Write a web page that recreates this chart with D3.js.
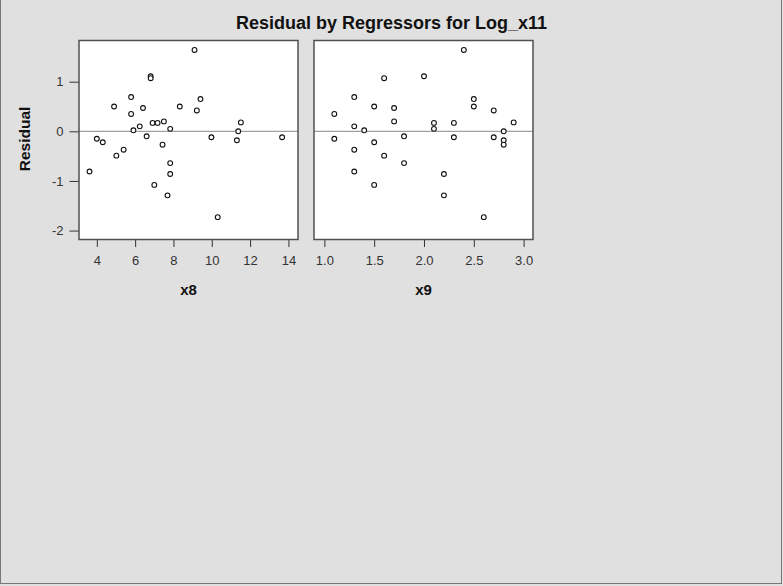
<!DOCTYPE html>
<html>
<head>
<meta charset="utf-8">
<script src="https://cdn.jsdelivr.net/npm/d3@7"></script>
<style>
  html, body { margin: 0; padding: 0; background: #e0e0e0; }
  svg { display: block; }
</style>
</head>
<body>
<svg></svg>
<script>
// residuals and the two regressors, one entry per observation
let residual = [1.64, 1.11, 1.07, 0.69, 0.65, 0.50, 0.50, 0.47, 0.42, 0.35, 0.20, 0.17, 0.17, 0.18,
  0.10, 0.05, 0.02, 0.00, -0.10, -0.12, -0.12, -0.15, -0.18, -0.22, -0.27, -0.37, -0.49, -0.64,
  -0.81, -0.86, -1.08, -1.29, -1.73]
let x8 = [9.10, 6.81, 6.81, 5.79, 9.41, 4.90, 8.33, 6.41, 9.22, 5.79, 7.50, 6.91, 7.17, 11.52,
  6.24, 7.83, 5.91, 11.38, 6.60, 9.98, 13.67, 4.00, 11.31, 4.31, 7.43, 5.40, 5.02, 7.83,
  3.62, 7.83, 7.00, 7.69, 10.31]
let x9 = [2.40, 2.00, 1.60, 1.30, 2.50, 1.50, 2.50, 1.70, 2.70, 1.10, 1.70, 2.10, 2.30, 2.90,
  1.30, 2.10, 1.40, 2.80, 1.80, 2.30, 2.70, 1.10, 2.80, 1.50, 2.80, 1.30, 1.60, 1.80,
  1.30, 2.20, 1.50, 2.20, 2.60]

let x8Ticks = [4, 6, 8, 10, 12, 14]
let x9Ticks = [1.0, 1.5, 2.0, 2.5, 3.0]
let yTicks = [-2, -1, 0, 1]

let width = 783
let height = 586
let font = 'Liberation Sans, Arial, sans-serif'

let svg = d3.select('svg')

let drawCanvas = () => {
  svg.attr('width', width).attr('height', height)
  svg.append('rect')
    .attr('x', 0.5).attr('y', -2)
    .attr('width', width - 2).attr('height', height - 0.5)
    .attr('fill', '#e0e0e0')
    .attr('stroke', '#777')
    .attr('stroke-width', 1)
  svg.append('text')
    .attr('x', 391.5)
    .attr('y', 29)
    .attr('text-anchor', 'middle')
    .attr('font-family', font)
    .attr('font-size', 18)
    .attr('font-weight', 'bold')
    .attr('fill', '#111')
    .text('Residual by Regressors for Log_x11')
}

let plotTop = 40.5
let plotBottom = 239.5
let yScale = d3.scaleLinear().domain([-2.18, 1.83]).range([plotBottom, plotTop])

let panels = [
  { name: 'x8', values: x8, ticks: x8Ticks, domain: [3.07, 14.5], left: 79, right: 298, fmt: (d) => String(d) },
  { name: 'x9', values: x9, ticks: x9Ticks, domain: [0.896, 3.094], left: 314, right: 533, fmt: (d) => d.toFixed(1) }
]

let styleAxis = (a) => {
  a.select('.domain').remove()
  a.selectAll('line').attr('stroke', '#333')
  a.selectAll('text')
    .attr('font-family', font)
    .attr('font-size', 13)
    .attr('fill', '#333')
}

let drawPanel = (p, index) => {
  let xScale = d3.scaleLinear().domain(p.domain).range([p.left, p.right])
  let g = svg.append('g')

  g.append('rect')
    .attr('x', p.left).attr('y', plotTop)
    .attr('width', p.right - p.left).attr('height', plotBottom - plotTop)
    .attr('fill', '#fff')

  g.append('line')
    .attr('x1', p.left).attr('x2', p.right)
    .attr('y1', yScale(0)).attr('y2', yScale(0))
    .attr('stroke', '#a0a0a0')
    .attr('stroke-width', 1.2)

  g.selectAll('circle')
    .data(p.values)
    .enter()
    .append('circle')
    .attr('cx', (d) => xScale(d))
    .attr('cy', (d, i) => yScale(residual[i]))
    .attr('r', 2.4)
    .attr('fill', '#fff')
    .attr('stroke', '#111')
    .attr('stroke-width', 1.1)

  g.append('rect')
    .attr('x', p.left).attr('y', plotTop)
    .attr('width', p.right - p.left).attr('height', plotBottom - plotTop)
    .attr('fill', 'none')
    .attr('stroke', '#505050')
    .attr('stroke-width', 1.5)

  let xAxis = d3.axisBottom(xScale).tickValues(p.ticks).tickFormat(p.fmt).tickSize(7).tickPadding(9)
  let ax = g.append('g')
    .attr('transform', 'translate(0,' + (plotBottom + 0.5) + ')')
    .call(xAxis)
  styleAxis(ax)

  g.append('text')
    .attr('x', (p.left + p.right) / 2)
    .attr('y', 295)
    .attr('text-anchor', 'middle')
    .attr('font-family', font)
    .attr('font-size', 15)
    .attr('font-weight', 'bold')
    .attr('fill', '#111')
    .text(p.name)

  if (index === 0) {
    let yAxis = d3.axisLeft(yScale).tickValues(yTicks).tickFormat((d) => String(d)).tickSize(9).tickPadding(6)
    let ay = g.append('g')
      .attr('transform', 'translate(' + (p.left - 0.5) + ',0)')
      .call(yAxis)
    styleAxis(ay)

    g.append('text')
      .attr('transform', 'translate(29.5,' + ((plotTop + plotBottom) / 2 - 1) + ') rotate(-90)')
      .attr('text-anchor', 'middle')
      .attr('font-family', font)
      .attr('font-size', 15.5)
      .attr('font-weight', 'bold')
      .attr('fill', '#111')
      .text('Residual')
  }
}

drawCanvas()
panels.forEach(drawPanel)
</script>
</body>
</html>
